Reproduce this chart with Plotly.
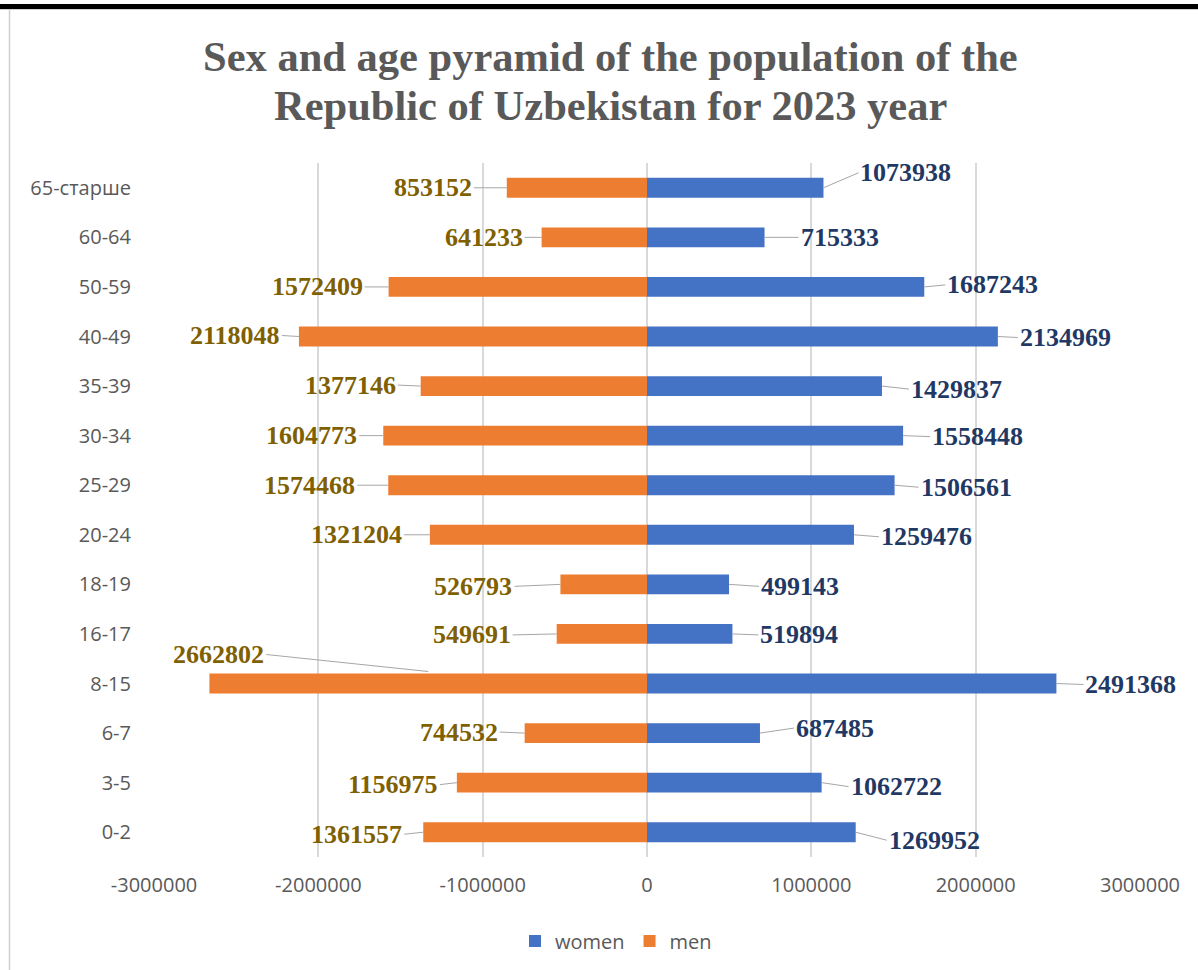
import plotly.graph_objects as go

# ---- data ----
age_groups = ["0-2", "3-5", "6-7", "8-15", "16-17", "18-19", "20-24", "25-29",
              "30-34", "35-39", "40-49", "50-59", "60-64", "65-старше"]
women = [1269952, 1062722, 687485, 2491368, 519894, 499143, 1259476, 1506561,
         1558448, 1429837, 2134969, 1687243, 715333, 1073938]
men = [1361557, 1156975, 744532, 2662802, 549691, 526793, 1321204, 1574468,
       1604773, 1377146, 2118048, 1572409, 641233, 853152]
x_tick_values = [-3000000, -2000000, -1000000, 0, 1000000, 2000000, 3000000]
x_tick_labels = ["-3000000", "-2000000", "-1000000", "0", "1000000", "2000000", "3000000"]
title_lines = ["Sex and age pyramid of the population of the",
               "Republic of Uzbekistan for 2023 year"]

# ---- style: label offsets in pixels (ax, ay) ----
women_off = [(31, 8), (27, 4), (34, -5), (27, 1), (26, 1), (30, 2), (25, 2), (24, 2),
             (27, 1), (27, 3), (20, 1), (21, -2), (34, 0), (35, -15)]
men_off = [(-19, 2), (-17, 2), (-25, -1), (-162, -17), (-44, 1), (-46, 2), (-26, 0), (-31, 0),
           (-24, 0), (-23, -1), (-17, -1), (-24, 0), (-17, 0), (-33, 0)]

W_COLOR = "#4472C4"
M_COLOR = "#ED7D31"
W_LABEL = "#1F3864"
M_LABEL = "#7F6000"
GRID = "#D9D9D9"
TXT = "#595959"
SERIF = "Liberation Serif, Times New Roman, serif"
SANS = "Open Sans, sans-serif"

fig = go.Figure()
fig.add_trace(go.Bar(y=age_groups, x=women, orientation="h", name="women",
                     marker=dict(color=W_COLOR, line=dict(width=0)), width=0.4))
fig.add_trace(go.Bar(y=age_groups, x=[-v for v in men], orientation="h", name="men",
                     marker=dict(color=M_COLOR, line=dict(width=0)), width=0.4))

# frame geometry
L, R, T, B = 154, 58, 163, 113
W, H = 1198, 970
PW, PH = W - L - R, H - T - B
def px_x(p):
    return (p - L) / PW
def px_y(p):
    return (H - B - p) / PH

annotations = []
for i, (cat, v) in enumerate(zip(age_groups, women)):
    ax, ay = women_off[i]
    annotations.append(dict(
        x=v, y=cat, xref="x", yref="y", text=f"<b>{v}</b>", showarrow=True,
        arrowhead=0, arrowwidth=1, arrowcolor="#A6A6A6", standoff=0,
        ax=ax, ay=ay, xanchor="left", yanchor="middle",
        font=dict(family=SERIF, size=26, color=W_LABEL)))
for i, (cat, v) in enumerate(zip(age_groups, men)):
    ax, ay = men_off[i]
    tip_x = -v
    yshift = 0
    if abs(ax) > 100:
        tip_x = -v / 2
        yshift = 12
    annotations.append(dict(
        x=tip_x, y=cat, xref="x", yref="y", text=f"<b>{v}</b>", showarrow=True,
        arrowhead=0, arrowwidth=1, arrowcolor="#A6A6A6", standoff=0,
        ax=ax, ay=ay, xanchor="right", yanchor="middle", yshift=yshift,
        font=dict(family=SERIF, size=26, color=M_LABEL)))

# title as two centred lines
for line, ypx in zip(title_lines, [57, 105]):
    annotations.append(dict(
        x=px_x(610), y=px_y(ypx), xref="paper", yref="paper", showarrow=False,
        text=f"<b>{line}</b>", xanchor="center", yanchor="middle",
        font=dict(family=SERIF, size=42.5, color=TXT)))

shapes = [
    dict(type="rect", xref="paper", yref="paper", x0=px_x(0), x1=px_x(W),
         y0=px_y(9), y1=px_y(4), fillcolor="black", line=dict(width=0), layer="above"),
    dict(type="line", xref="paper", yref="paper", x0=px_x(0), x1=px_x(W),
         y0=px_y(9.5), y1=px_y(9.5), line=dict(color="#D0D0D0", width=1)),
    dict(type="line", xref="paper", yref="paper", x0=px_x(9.5), x1=px_x(9.5),
         y0=px_y(10), y1=px_y(H), line=dict(color="#D0D0D0", width=1.5)),
]

fig.update_layout(
    width=W, height=H,
    margin=dict(l=L, r=R, t=T, b=B),
    paper_bgcolor="white", plot_bgcolor="white",
    barmode="overlay",
    xaxis=dict(range=[-3000000, 3000000], tickvals=x_tick_values, ticktext=x_tick_labels,
               showgrid=True, gridcolor=GRID, gridwidth=1.5, zeroline=True, zerolinecolor=GRID,
               zerolinewidth=1.5, showline=False, ticks="", ticklabelstandoff=14,
               tickfont=dict(family=SANS, size=20, color=TXT)),
    yaxis=dict(range=[-0.5, len(age_groups) - 0.5], autorange=False,
               showgrid=False, zeroline=False, showline=False, ticks="",
               ticklabelstandoff=22,
               tickfont=dict(family=SANS, size=20, color=TXT)),
    legend=dict(orientation="h", x=616 / W, xref="container", xanchor="center",
                y=1 - 941 / H, yref="container", yanchor="middle",
                font=dict(family=SANS, size=20, color=TXT),
                traceorder="normal", itemwidth=30),
    showlegend=True,
    annotations=annotations,
    shapes=shapes,
)

fig.write_html("out.html")
